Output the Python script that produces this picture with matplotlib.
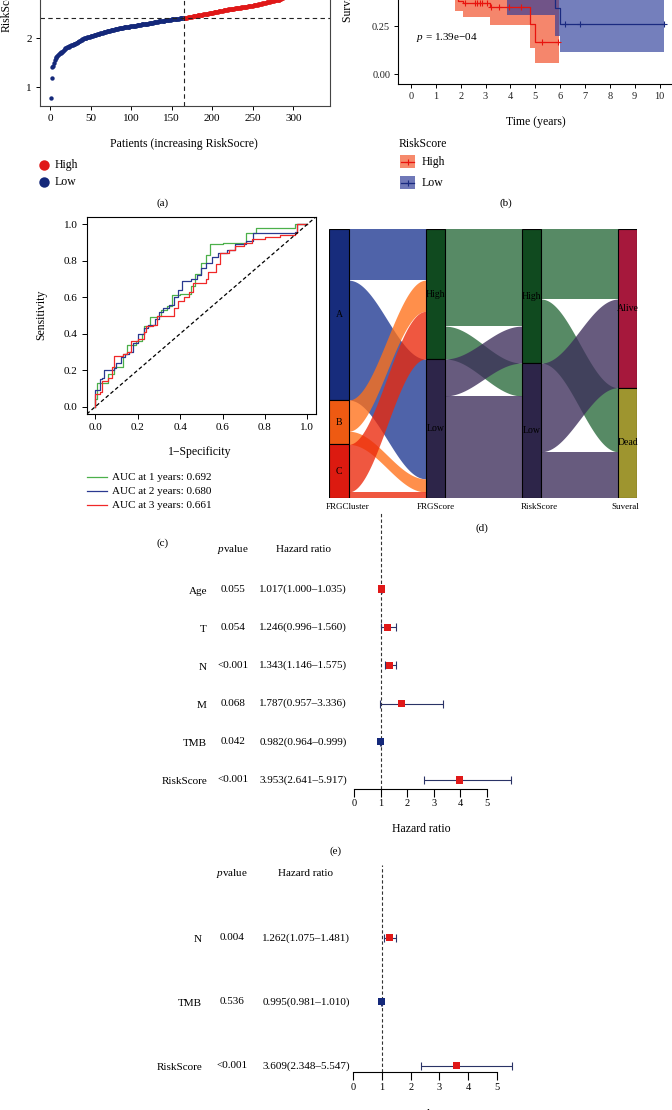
import numpy as np
import matplotlib.pyplot as plt
from matplotlib.patches import Rectangle

plt.rcParams['font.family'] = ['Liberation Serif', 'DejaVu Serif']
plt.rcParams['mathtext.fontset'] = 'custom'
plt.rcParams['mathtext.rm'] = 'Liberation Serif'
plt.rcParams['mathtext.it'] = 'Liberation Serif:italic'

W, H = 672, 1110

# ---------------- data ----------------
# (a) sorted risk scores
risk_low = [
    0.78, 1.19, 1.42, 1.44, 1.50, 1.56, 1.59, 1.62, 1.64, 1.66,
    1.68, 1.69, 1.70, 1.71, 1.72, 1.74, 1.75, 1.77, 1.79, 1.80,
    1.81, 1.82, 1.83, 1.84, 1.85, 1.86, 1.86, 1.87, 1.88, 1.88,
    1.89, 1.90, 1.91, 1.92, 1.93, 1.94, 1.95, 1.96, 1.97, 1.98,
    1.99, 2.00, 2.00, 2.01, 2.01, 2.02, 2.02, 2.03, 2.03, 2.04,
    2.04, 2.05, 2.05, 2.06, 2.06, 2.07, 2.07, 2.08, 2.08, 2.09,
    2.09, 2.10, 2.10, 2.11, 2.11, 2.12, 2.12, 2.13, 2.13, 2.14,
    2.14, 2.15, 2.15, 2.15, 2.16, 2.16, 2.17, 2.17, 2.17, 2.18,
    2.18, 2.19, 2.19, 2.19, 2.20, 2.20, 2.20, 2.21, 2.21, 2.21,
    2.22, 2.22, 2.22, 2.22, 2.23, 2.23, 2.23, 2.23, 2.24, 2.24,
    2.24, 2.24, 2.25, 2.25, 2.25, 2.25, 2.26, 2.26, 2.26, 2.27,
    2.27, 2.27, 2.28, 2.28, 2.28, 2.29, 2.29, 2.29, 2.30, 2.30,
    2.30, 2.31, 2.31, 2.31, 2.32, 2.32, 2.32, 2.33, 2.33, 2.33,
    2.34, 2.34, 2.34, 2.35, 2.35, 2.35, 2.35, 2.36, 2.36, 2.36,
    2.36, 2.37, 2.37, 2.37, 2.37, 2.38, 2.38, 2.38, 2.38, 2.39,
    2.39, 2.39, 2.39, 2.39, 2.40, 2.40, 2.40, 2.40, 2.40, 2.41,
    2.41, 2.41, 2.41, 2.41, 2.41,
]
risk_high = [
    2.41, 2.42, 2.42, 2.42, 2.43, 2.43, 2.43, 2.44, 2.44, 2.44,
    2.45, 2.45, 2.45, 2.46, 2.46, 2.46, 2.47, 2.47, 2.47, 2.48,
    2.48, 2.48, 2.48, 2.49, 2.49, 2.49, 2.50, 2.50, 2.50, 2.50,
    2.51, 2.51, 2.51, 2.52, 2.52, 2.52, 2.53, 2.53, 2.53, 2.54,
    2.54, 2.54, 2.55, 2.55, 2.55, 2.56, 2.56, 2.56, 2.57, 2.57,
    2.57, 2.58, 2.58, 2.58, 2.59, 2.59, 2.59, 2.59, 2.60, 2.60,
    2.60, 2.60, 2.61, 2.61, 2.61, 2.61, 2.62, 2.62, 2.62, 2.62,
    2.63, 2.63, 2.63, 2.63, 2.64, 2.64, 2.64, 2.64, 2.65, 2.65,
    2.65, 2.65, 2.66, 2.66, 2.66, 2.67, 2.67, 2.67, 2.68, 2.68,
    2.68, 2.69, 2.69, 2.69, 2.70, 2.70, 2.71, 2.71, 2.71, 2.72,
    2.72, 2.73, 2.73, 2.73, 2.74, 2.74, 2.75, 2.75, 2.75, 2.76,
    2.76, 2.77, 2.77, 2.77, 2.78, 2.78, 2.79, 2.79, 2.80, 2.81,
    2.82, 2.83, 2.84, 2.85, 2.86, 2.87, 2.88, 2.89, 2.90, 2.91,
    2.92, 2.93, 2.95, 2.96, 2.98, 3.00, 3.02, 3.04, 3.06, 3.08,
    3.10, 3.13, 3.16, 3.19, 3.22, 3.25, 3.29, 3.33, 3.37, 3.42,
    3.47, 3.53, 3.60, 3.67, 3.75, 3.84, 3.94, 4.06, 4.20, 4.38,
    4.62, 5.00,
]
risk_cut = 2.41

# (b) Kaplan-Meier, RiskScore groups
km_high_t = [0, 0.4, 0.8, 1.1, 1.4, 1.9, 2.1, 3.16, 4.78, 4.98, 5.96]
km_high_s = [1.0, 0.92, 0.81, 0.70, 0.50, 0.38, 0.368, 0.350, 0.259, 0.169, 0.169]
km_high_cens_t = [2.18, 2.58, 2.67, 2.78, 2.87, 3.05, 3.21, 3.55, 3.93, 4.44, 5.26, 5.92]
km_high_cens_s = [0.368, 0.368, 0.368, 0.368, 0.368, 0.368, 0.350, 0.350, 0.350, 0.350, 0.169, 0.169]
band_high_t = [0, 0.4, 0.8, 1.1, 1.4, 1.77, 2.1, 3.17, 4.78, 4.98, 5.96]
band_high_lo = [1.0, 0.85, 0.72, 0.60, 0.47, 0.33, 0.295, 0.255, 0.135, 0.06, 0.06]
band_high_hi = [1.0, 0.98, 0.92, 0.82, 0.70, 0.60, 0.56, 0.53, 0.45, 0.42, 0.42]

km_low_t = [0, 1, 2, 3, 4, 5, 5.78, 5.98, 10.16]
km_low_s = [1.0, 0.95, 0.88, 0.80, 0.70, 0.45, 0.346, 0.259, 0.259]
km_low_cens_t = [6.2, 6.8, 10.16]
km_low_cens_s = [0.259, 0.259, 0.259]
band_low_t = [0, 1, 2, 3, 3.86, 5.78, 5.98, 10.16]
band_low_lo = [1.0, 0.91, 0.82, 0.70, 0.307, 0.198, 0.117, 0.117]
band_low_hi = [1.0, 0.99, 0.95, 0.90, 0.85, 0.60, 0.50, 0.50]
km_pval = '1.39e\u221204'

# (c) time-dependent ROC
roc1_fpr = [0, 0, 0.01, 0.06, 0.06, 0.09, 0.11, 0.13, 0.15, 0.17, 0.19, 0.22, 0.23, 0.26, 0.29,
            0.31, 0.34, 0.36, 0.40, 0.42, 0.45, 0.47, 0.50, 0.52, 0.54, 0.60, 0.65, 0.71, 0.76,
            0.93, 0.94, 1.0]
roc1_tpr = [0, 0.04, 0.13, 0.13, 0.18, 0.22, 0.22, 0.29, 0.34, 0.34, 0.36, 0.40, 0.44, 0.49, 0.50,
            0.53, 0.55, 0.61, 0.62, 0.62, 0.66, 0.73, 0.79, 0.83, 0.89, 0.90, 0.90, 0.95, 0.98,
            0.98, 1.0, 1.0]
roc2_fpr = [0, 0, 0.01, 0.02, 0.03, 0.04, 0.09, 0.10, 0.12, 0.14, 0.16, 0.18, 0.20, 0.22, 0.23,
            0.25, 0.28, 0.30, 0.32, 0.35, 0.37, 0.39, 0.41, 0.45, 0.48, 0.50, 0.52, 0.55, 0.58,
            0.62, 0.66, 0.71, 0.745, 0.80, 0.94, 0.95, 1.0]
roc2_tpr = [0, 0.09, 0.09, 0.15, 0.16, 0.20, 0.21, 0.24, 0.27, 0.29, 0.30, 0.35, 0.40, 0.40, 0.43,
            0.45, 0.48, 0.52, 0.54, 0.56, 0.60, 0.64, 0.69, 0.70, 0.72, 0.76, 0.79, 0.82, 0.84,
            0.86, 0.89, 0.91, 0.95, 0.95, 0.96, 1.0, 1.0]
roc3_fpr = [0, 0, 0.02, 0.03, 0.06, 0.08, 0.09, 0.13, 0.15, 0.17, 0.20, 0.23, 0.24, 0.27, 0.29,
            0.35, 0.37, 0.39, 0.42, 0.44, 0.46, 0.52, 0.53, 0.57, 0.59, 0.63, 0.66, 0.70, 0.74,
            0.80, 0.87, 0.94, 0.95, 1.0]
roc3_tpr = [0, 0.07, 0.08, 0.14, 0.16, 0.22, 0.28, 0.29, 0.30, 0.36, 0.37, 0.41, 0.44, 0.45, 0.50,
            0.50, 0.54, 0.58, 0.60, 0.63, 0.68, 0.70, 0.74, 0.78, 0.84, 0.86, 0.88, 0.90, 0.92,
            0.93, 0.94, 0.95, 1.0, 1.0]
roc_labels = ['AUC at 1 years: 0.692', 'AUC at 2 years: 0.680', 'AUC at 3 years: 0.661']

# (d) alluvial
axis_names = ['FRGCluster', 'FRGScore', 'RiskScore', 'Suveral']
strata = [['A', 'B', 'C'], ['High', 'Low'], ['High', 'Low'], ['Alive', 'Dead']]
flow_cluster_score = [[62, 146], [38, 16], [58, 7]]
flow_score_risk = [[118, 40], [45, 124]]
flow_risk_status = [[85, 78], [108, 56]]

# (e) multivariate Cox, all factors
cox1_vars = ['Age', 'T', 'N', 'M', 'TMB', 'RiskScore']
cox1_p = ['0.055', '0.054', '<0.001', '0.068', '0.042', '<0.001']
cox1_hr = [1.017, 1.246, 1.343, 1.787, 0.982, 3.953]
cox1_lo = [1.000, 0.996, 1.146, 0.957, 0.964, 2.641]
cox1_hi = [1.035, 1.560, 1.575, 3.336, 0.999, 5.917]

# (f) multivariate Cox, selected
cox2_vars = ['N', 'TMB', 'RiskScore']
cox2_p = ['0.004', '0.536', '<0.001']
cox2_hr = [1.262, 0.995, 3.609]
cox2_lo = [1.075, 0.981, 2.348]
cox2_hi = [1.481, 1.010, 5.547]

# ---------------- figure ----------------
fig = plt.figure(figsize=(W / 100, H / 100), dpi=100)


def axes_px(l, t, r, b):
    return fig.add_axes([l / W, 1 - b / H, (r - l) / W, (b - t) / H])


cv = fig.add_axes([0, 0, 1, 1])
cv.set_xlim(0, W)
cv.set_ylim(H, 0)
cv.axis('off')


def txt(x, y, s, size=8, **kw):
    kw.setdefault('ha', 'center')
    kw.setdefault('va', 'center')
    cv.text(x, y, s, fontsize=size, **kw)


NAVY = '#14287a'
RED = '#e01818'

# ---- (a) risk score distribution
axA = axes_px(40, -117, 330, 106)
axA.set_facecolor('none')
n_low = len(risk_low)
x_low = np.arange(1, n_low + 1)
x_high = np.arange(n_low + 1, n_low + len(risk_high) + 1)
axA.scatter(x_low, risk_low, s=10, color=NAVY, lw=0)
axA.scatter(x_high, risk_high, s=10, color=RED, lw=0)
axA.axhline(risk_cut, color='#222222', ls=(0, (4, 3)), lw=0.8)
axA.axvline(n_low + 0.5, color='#222222', ls=(0, (4, 3)), lw=0.8)
axA.set_xlim(-12.33, 345.3)
axA.set_ylim(0.615, 5.17)
axA.set_xticks([0, 50, 100, 150, 200, 250, 300])
axA.set_yticks([1, 2, 3, 4, 5])
axA.tick_params(direction='out', length=3, width=0.7, labelsize=8, pad=3)
for sp in axA.spines.values():
    sp.set_linewidth(0.8)
    sp.set_color('#444444')
txt(7, 32, 'RiskScore', 8.5, rotation=90, va='bottom')
txt(184, 144, 'Patients (increasing RiskSocre)', 8.5)
cv.plot([44.3], [165], 'o', ms=7.5, color=RED, mew=0)
cv.plot([44.3], [182], 'o', ms=7.5, color=NAVY, mew=0)
txt(55, 165, 'High', 8.5, ha='left')
txt(55, 182, 'Low', 8.5, ha='left')
txt(163, 203, '(a)', 8)

# ---- (b) Kaplan-Meier
axB = axes_px(398.5, -128.4, 672, 84)
axB.set_facecolor('none')
axB.fill_between(band_high_t, band_high_lo, band_high_hi, step='post', color='#f0461e', alpha=0.65, lw=0)
axB.fill_between(band_low_t, band_low_lo, band_low_hi, step='post', color='#2a3a98', alpha=0.65, lw=0)
axB.step(km_high_t, km_high_s, where='post', color='#e8140e', lw=0.9)
axB.step(km_low_t, km_low_s, where='post', color='#1a2a80', lw=0.9)
axB.plot(km_high_cens_t, km_high_cens_s, '+', color='#e8140e', ms=4.5, mew=0.8)
axB.plot(km_low_cens_t, km_low_cens_s, '+', color='#1a2a80', ms=4.5, mew=0.8)
axB.set_xlim(-0.5, 10.5)
axB.set_ylim(-0.05, 1.05)
axB.set_xticks(range(11))
axB.set_yticks([0, 0.25, 0.5, 0.75, 1.0])
axB.set_yticklabels(['0.00', '0.25', '0.50', '0.75', '1.00'])
axB.spines['top'].set_visible(False)
axB.spines['right'].set_visible(False)
axB.tick_params(direction='out', length=3, width=0.7, labelsize=7.5, pad=3, labelcolor='#222222')
txt(348, 22, 'Survival probability', 8.5, rotation=90, va='bottom')
cv.text(416, 37.7, r'$p$ = ' + km_pval, fontsize=8, ha='left', va='center')
txt(536, 122, 'Time (years)', 8.5)
txt(399, 144, 'RiskScore', 8.5, ha='left')
cv.add_patch(Rectangle((400, 155), 15, 13, color='#f68a6c', lw=0))
cv.plot([401, 414], [161.5, 161.5], color='#e8140e', lw=0.9)
cv.plot([407.5], [161.5], '+', color='#e8140e', ms=4.5, mew=0.8)
cv.add_patch(Rectangle((400, 176), 15, 13, color='#6f78b8', lw=0))
cv.plot([401, 414], [182.5, 182.5], color='#1a2a80', lw=0.9)
cv.plot([407.5], [182.5], '+', color='#1a2a80', ms=4.5, mew=0.8)
txt(422, 161.5, 'High', 8.5, ha='left')
txt(422, 182.5, 'Low', 8.5, ha='left')
txt(506, 203, '(b)', 8)

# ---- (c) ROC
axC = axes_px(86.8, 217, 315.8, 414)
axC.set_facecolor('none')
roc_colors = ['#4cb04a', '#2a3990', '#f02828']
axC.step(roc1_fpr, roc1_tpr, where='post', color=roc_colors[0], lw=0.9)
axC.step(roc2_fpr, roc2_tpr, where='post', color=roc_colors[1], lw=0.9)
axC.step(roc3_fpr, roc3_tpr, where='post', color=roc_colors[2], lw=0.9)
axC.axline((0, 0), (1, 1), color='black', ls=(0, (3, 2)), lw=0.9)
axC.set_xlim(-0.04, 1.04)
axC.set_ylim(-0.04, 1.04)
ticks = [0, 0.2, 0.4, 0.6, 0.8, 1.0]
axC.set_xticks(ticks)
axC.set_yticks(ticks)
axC.set_xticklabels(['%.1f' % t for t in ticks])
axC.set_yticklabels(['%.1f' % t for t in ticks])
axC.tick_params(direction='out', length=3.5, width=0.7, labelsize=8, pad=3)
for sp in axC.spines.values():
    sp.set_linewidth(0.8)
txt(41, 315, 'Sensitivity', 8.5, rotation=90)
txt(200, 452, '1\u2212Specificity', 8.5)
for k, lab in enumerate(roc_labels):
    yy = 477 + 14 * k
    cv.plot([87, 107], [yy, yy], color=roc_colors[k], lw=0.9)
    txt(112, yy, lab, 8, ha='left')
txt(163, 543, '(c)', 8)

# ---- (d) alluvial
axD = axes_px(329.3, 229.3, 637.3, 497.7)
axD.axis('off')
axD.set_xlim(0.9, 4.1)
N_TOT = float(np.sum(flow_cluster_score))
axD.set_ylim(N_TOT, 0)
bw = 0.1
stratum_colors = [['#172c7c', '#ee5a12', '#dc1a10'], ['#104a1f', '#2d2549'],
                  ['#104a1f', '#2d2549'], ['#a6183c', '#9e952f']]
flow_colors = [['#1e3791', '#ff7018', '#eb280a'], ['#28693a', '#3c2d5a'], ['#28693a', '#3c2d5a']]
xs_rel = np.linspace(0, 1, 80)
sig = (1 - np.cos(np.pi * xs_rel)) / 2


def draw_flows(k, mat, colors):
    mat = np.array(mat, dtype=float)
    lt = mat.sum(1)
    rt = mat.sum(0)
    ls_ = np.concatenate([[0], np.cumsum(lt)[:-1]])
    rs_ = np.concatenate([[0], np.cumsum(rt)[:-1]])
    x0, x1 = k + 1 + bw, k + 2 - bw
    xs = x0 + (x1 - x0) * xs_rel
    for i in range(mat.shape[0]):
        for j in range(mat.shape[1]):
            v = mat[i, j]
            ly = ls_[i] + mat[i, :j].sum()
            ry = rs_[j] + mat[:i, j].sum()
            top = ly + (ry - ly) * sig
            axD.fill_between(xs, top, top + v, color=colors[i], alpha=0.78, lw=0)
    return lt, rt


tots = []
lt, rt = draw_flows(0, flow_cluster_score, flow_colors[0])
tots += [lt, rt]
lt, rt = draw_flows(1, flow_score_risk, flow_colors[1])
tots += [rt]
lt, rt = draw_flows(2, flow_risk_status, flow_colors[2])
tots += [rt]
for k, tot in enumerate(tots):
    y0 = 0
    for s, v in enumerate(tot):
        axD.add_patch(Rectangle((k + 1 - bw, y0), 2 * bw, v, facecolor=stratum_colors[k][s],
                                edgecolor='black', lw=0.8))
        axD.text(k + 1, y0 + v / 2, strata[k][s], fontsize=7, ha='center', va='center')
        y0 += v
for xx, name in zip([348, 436, 539, 625], axis_names):
    txt(xx, 507, name, 6.5)
txt(482, 528, '(d)', 8)


# ---- (e)/(f) forest plots
def forest(top, bottom, row0, step, zero_px, unit_px, vars_, ps, hrs, los, his,
           lab_x, p_x, hr_x, head_y, tick_y_pad):
    ax = axes_px(340, top, 530, bottom)
    ax.set_facecolor('none')
    n = len(vars_)
    ax.set_xlim((340 - zero_px) / unit_px, (530 - zero_px) / unit_px)
    ax.set_ylim((bottom - row0) / step, (top - row0) / step)
    rows = np.arange(n)
    ax.axvline(1, color='#333333', ls=(0, (3, 2)), lw=0.8)
    hrs = np.array(hrs)
    err = [hrs - np.array(los), np.array(his) - hrs]
    ax.errorbar(hrs, rows, xerr=err, fmt='none', ecolor='#2a3366', elinewidth=0.8,
                capsize=2.7, capthick=0.8)
    cols = [RED if h > 1 else NAVY for h in hrs]
    ax.scatter(hrs, rows, marker='s', s=26, c=cols, zorder=3, lw=0)
    for sp in ['top', 'right', 'left']:
        ax.spines[sp].set_visible(False)
    ax.spines['bottom'].set_bounds(0, 5)
    ax.spines['bottom'].set_linewidth(0.8)
    ax.set_yticks([])
    ax.set_xticks(range(6))
    ax.tick_params(axis='x', direction='out', length=5.5, width=0.8, labelsize=7.5, pad=tick_y_pad)
    cv.text(p_x, head_y, r'$p$value', fontsize=8, ha='center', va='center')
    txt(hr_x, head_y, 'Hazard ratio', 8)
    for i in range(n):
        yy = row0 + step * i
        txt(lab_x, yy + 2, vars_[i], 8, ha='right')
        txt(p_x, yy, ps[i], 8)
        txt(hr_x, yy, '%.3f(%.3f\u2013%.3f)' % (hrs[i], los[i], his[i]), 8)


forest(512, 789, 589, 38.2, 354.3, 26.5, cox1_vars, cox1_p, cox1_hr, cox1_lo, cox1_hi,
       207, 233, 303, 550, 2)
txt(421, 829, 'Hazard ratio', 8.5)
txt(336, 851.5, '(e)', 8)
forest(865, 1072.3, 937.7, 64, 353.3, 28.7, cox2_vars, cox2_p, cox2_hr, cox2_lo, cox2_hi,
       202, 232, 306, 873, 2)
txt(425, 1109, 'Hazard ratio', 8.5, va='top')

fig.savefig('out.png', dpi=100)
